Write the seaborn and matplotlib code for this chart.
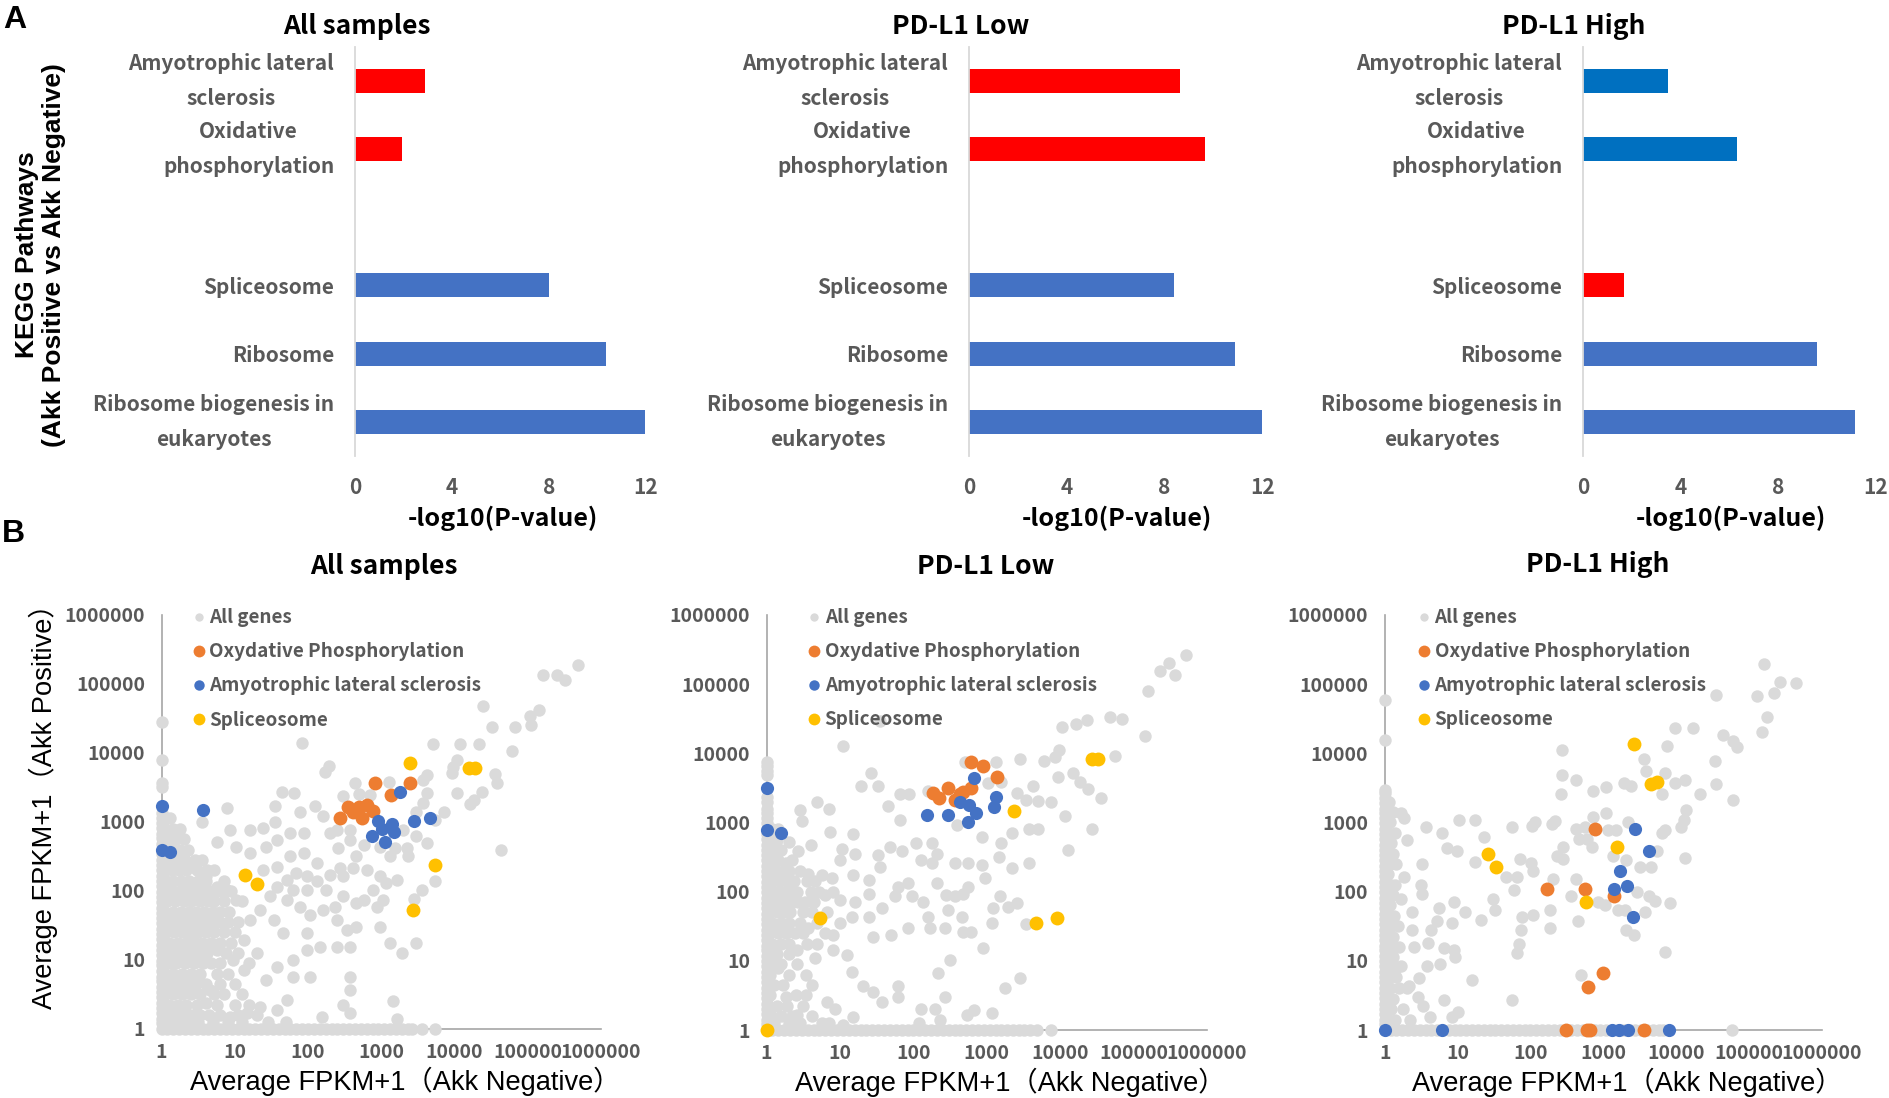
import numpy as np
import pandas as pd
import matplotlib
matplotlib.use("Agg")
import matplotlib.pyplot as plt
import matplotlib.transforms as mtransforms
import seaborn as sns
from matplotlib.lines import Line2D
from matplotlib.ticker import FixedLocator, FixedFormatter, NullLocator

# ======================= Panel A data (KEGG pathways) =======================
pathway_slots = ["Amyotrophic lateral\nsclerosis", "Oxidative\nphosphorylation", "",
                 "Spliceosome", "Ribosome", "Ribosome biogenesis in\neukaryotes"]
bar_pathways = ["Amyotrophic lateral\nsclerosis", "Oxidative\nphosphorylation",
                "Spliceosome", "Ribosome", "Ribosome biogenesis in\neukaryotes"]
group_titles = ["All samples", "PD-L1 Low", "PD-L1 High"]
neglog10p_all = [2.89, 1.93, 7.98, 10.34, 11.95]
neglog10p_low = [8.62, 9.64, 8.40, 10.86, 11.98]
neglog10p_high = [3.50, 6.31, 1.68, 9.60, 11.14]
bar_colors_all = ["#FF0000", "#FF0000", "#4472C4", "#4472C4", "#4472C4"]
bar_colors_low = ["#FF0000", "#FF0000", "#4472C4", "#4472C4", "#4472C4"]
bar_colors_high = ["#0070C0", "#0070C0", "#FF0000", "#4472C4", "#4472C4"]
a_xticks = [0, 4, 8, 12]

# ======================= Panel B data (log10 of Average FPKM+1) =======================
# (log10 x = Akk Negative, log10 y = Akk Positive)
b_tick_values = [1, 10, 100, 1000, 10000, 100000, 1000000]
b_tick_labels = ["1", "10", "100", "1000", "10000", "100000", "1000000"]
legend_labels = ["All genes", "Oxydative Phosphorylation", "Amyotrophic lateral sclerosis", "Spliceosome"]

# ---- All samples ----
b1_genes = [
    (5.69,5.27),(5.21,5.13),(5.40,5.13),(5.51,5.05),(4.39,4.68),(5.15,4.62),(5.03,4.54),(5.05,4.41),
    (4.51,4.38),(4.83,4.37),(4.78,4.03),(3.70,4.13),(4.08,4.13),(4.33,4.13),(1.92,4.14),(2.28,3.81),
    (2.23,3.73),(4.03,3.90),(3.98,3.80),(3.96,3.71),(4.55,3.70),(4.58,3.57),(4.37,3.44),(4.26,3.32),
    (4.21,3.26),(4.03,3.42),(3.62,3.68),(3.57,3.61),(3.62,3.42),(3.57,3.27),(3.48,3.15),(3.85,3.15),
    (3.73,3.03),(3.10,3.58),(2.64,3.57),(2.85,3.39),(2.48,3.37),(2.69,3.41),(1.64,3.43),(1.81,3.42),
    (1.55,3.23),(0.89,3.20),(0.55,3.00),(0.93,2.88),(1.21,2.88),(1.39,2.91),(1.55,3.00),(1.89,3.15),
    (2.09,3.23),(2.21,3.08),(4.63,2.60),(3.73,2.14),(3.55,2.01),(3.44,1.89),(3.19,2.62),(3.35,2.62),
    (3.30,2.88),(3.48,2.79),(3.62,2.69),(3.37,2.50),(3.12,2.50),(2.98,2.64),(2.76,2.67),(2.57,2.88),
    (2.39,2.88),(2.30,2.84),(2.41,2.62),(2.57,2.74),(2.66,2.50),(2.44,2.33),(2.62,2.33),(2.30,2.23),
    (2.48,2.21),(2.80,2.30),(2.98,2.21),(3.07,2.11),(3.21,2.16),(3.03,1.87),(2.89,2.01),(2.76,1.87),
    (2.66,1.82),(2.48,1.92),(2.37,1.77),(2.25,2.01),(2.12,2.14),(1.98,2.21),(1.84,2.26),(1.71,2.16),
    (1.57,2.06),(1.48,1.92),(1.39,2.30),(1.57,2.35),(1.75,2.50),(1.94,2.55),(2.12,2.40),(1.98,2.01),
    (1.80,2.01),(1.71,1.87),(1.89,1.77),(2.03,1.65),(2.21,1.72),(2.39,1.58),(2.53,1.43),(2.66,1.48),
    (2.98,1.48),(2.94,1.77),(3.12,1.24),(3.28,1.10),(3.48,1.24),(2.57,1.19),(2.39,1.19),(2.16,1.19),
    (1.98,1.14),(1.80,1.00),(1.66,1.39),(1.53,1.58),(1.34,1.72),(1.21,1.58),(1.02,1.87),(0.89,2.01),
    (0.75,2.06),(0.61,2.21),(0.43,2.35),(0.30,2.40),(0.75,2.71),(1.02,2.64),(1.21,2.55),(1.43,2.64),
    (1.75,2.84),(1.94,2.84),(1.57,2.74),(2.57,0.76),(2.57,0.57),(3.16,0.40),(3.21,0.15),(2.48,0.35),
    (2.57,0.23),(2.19,0.18),(1.71,0.42),(1.57,0.28),(1.34,0.32),(1.16,0.23),(0.93,0.18),(0.61,0.37),
    (0.66,0.57),(0.48,0.66),(1.12,0.86),(0.98,1.00),(0.75,1.14),(0.57,1.14),(0.43,1.39),(0.30,1.63),
    (1.12,1.29),(1.30,1.10),(1.43,0.71),(1.57,0.90),(1.80,0.76),(2.03,0.76),(1.98,1.39),
]
b1_dense_rows = [
    (3.05, [0.05, 0.12]),
    (2.90, [0.05, 0.15, 0.25]),
    (2.75, [0.05, 0.12, 0.20, 0.30]),
    (2.60, [0.06, 0.15, 0.25, 0.36]),
    (2.45, [0.05, 0.13, 0.22, 0.32, 0.45, 0.55]),
    (2.30, [0.05, 0.14, 0.24, 0.34, 0.48, 0.62, 0.72]),
    (2.15, [0.06, 0.16, 0.27, 0.38, 0.50, 0.60, 0.85]),
    (2.00, [0.05, 0.14, 0.25, 0.35, 0.45, 0.56, 0.67, 0.78, 0.95]),
    (1.85, [0.08, 0.18, 0.30, 0.40, 0.52, 0.63, 0.72, 0.85, 1.10]),
    (1.70, [0.05, 0.15, 0.26, 0.37, 0.47, 0.58, 0.70, 0.80, 0.92]),
    (1.55, [0.10, 0.20, 0.32, 0.43, 0.54, 0.66, 0.78, 0.90, 1.05]),
    (1.40, [0.06, 0.17, 0.28, 0.38, 0.50, 0.60, 0.72, 0.85, 1.00]),
    (1.25, [0.10, 0.22, 0.33, 0.45, 0.55, 0.67, 0.80, 0.95]),
    (1.10, [0.05, 0.15, 0.27, 0.38, 0.50, 0.62, 0.88, 1.05]),
    (0.95, [0.10, 0.20, 0.32, 0.44, 0.56, 0.68, 0.80, 1.20]),
    (0.80, [0.05, 0.16, 0.28, 0.40, 0.52, 0.75, 0.90]),
    (0.65, [0.10, 0.22, 0.34, 0.46, 0.60, 0.80, 1.00]),
    (0.50, [0.05, 0.16, 0.28, 0.40, 0.52, 0.72, 0.85, 1.10]),
    (0.35, [0.10, 0.22, 0.34, 0.48, 0.75, 1.00, 1.20]),
    (0.20, [0.05, 0.16, 0.28, 0.40, 0.52, 0.65, 0.80, 1.05, 1.30]),
    (0.10, [0.10, 0.22, 0.35, 0.50, 0.70, 0.90, 1.10, 1.45, 1.70]),
]
b1_zero_neg_ly = [0.0,0.08,0.15,0.23,0.30,0.38,0.46,0.53,0.61,0.69,0.76,0.84,0.92,0.99,1.07,1.15,
                  1.22,1.30,1.38,1.45,1.53,1.61,1.68,1.76,1.84,1.91,1.99,2.07,2.14,2.22,2.30,2.37,
                  2.45,2.53,2.60,2.68,2.76,2.83,2.91,2.99,3.06,3.13,3.51,3.56,3.90,4.45]
b1_zero_pos_lx = [0.08,0.16,0.24,0.32,0.40,0.48,0.56,0.64,0.72,0.80,0.88,0.96,1.04,1.12,1.20,1.28,
                  1.36,1.44,1.52,1.60,1.68,1.76,1.84,1.92,2.00,2.08,2.16,2.24,2.32,2.40,2.48,2.56,
                  2.64,2.72,2.80,2.88,2.96,3.04,3.12,3.20,3.28,3.36,3.42,3.55,3.73]
b1_oxphos = [(2.91,3.56),(3.39,3.57),(3.13,3.39),(2.55,3.21),(2.69,3.22),(2.80,3.25),(2.62,3.15),
             (2.89,3.16),(2.43,3.05),(2.74,3.05)]
b1_als = [(0.0,3.23),(0.0,2.59),(0.115,2.56),(0.57,3.17),(3.25,3.43),(2.96,3.02),(3.15,2.97),
          (3.01,2.89),(3.17,2.86),(2.87,2.80),(3.05,2.71),(3.44,3.02),(3.67,3.05)]
b1_splice = [(3.39,3.86),(4.20,3.78),(4.28,3.78),(1.14,2.23),(1.30,2.10),(3.74,2.38),(3.43,1.72)]

# ---- PD-L1 Low ----
b2_genes = [
    (5.72,5.42),(5.48,5.31),(5.36,5.19),(5.57,5.13),(5.20,4.90),(4.68,4.53),(4.84,4.49),(5.15,4.25),
    (4.02,4.38),(4.21,4.42),(4.37,4.48),(1.54,4.46),(1.04,4.10),(3.45,3.91),(3.78,3.89),(3.93,3.95),
    (3.98,4.04),(4.74,3.96),(3.13,3.87),(2.70,3.88),(1.42,3.72),(1.29,3.53),(1.52,3.53),(1.82,3.41),
    (1.94,3.41),(2.20,3.46),(3.02,3.57),(3.20,3.59),(3.97,3.66),(4.18,3.71),(3.63,3.52),(3.41,3.43),
    (3.53,3.33),(3.70,3.31),(3.88,3.30),(4.27,3.59),(4.38,3.48),(4.56,3.35),(4.06,3.09),(4.44,2.90),
    (4.10,2.60),(0.68,3.30),(0.85,3.19),(0.45,3.18),(0.48,3.02),(1.66,3.23),(1.82,3.03),(0.86,2.86),
    (1.18,2.83),(0.30,2.72),(0.43,2.58),(0.61,2.67),(1.03,2.61),(1.20,2.55),(1.52,2.53),(1.68,2.65),
    (1.84,2.58),(2.04,2.70),(2.25,2.70),(2.11,2.46),(2.25,2.41),(2.32,2.55),(2.57,2.41),(2.59,2.96),
    (2.93,2.79),(3.20,2.70),(3.16,2.50),(3.34,2.84),(3.57,2.91),(3.70,2.91),(3.34,2.34),(3.57,2.41),
    (2.93,2.38),(2.75,2.41),(0.27,2.41),(0.57,2.26),(0.75,2.24),(0.89,2.19),(1.00,2.46),(1.18,2.24),
    (1.39,2.17),(1.54,2.36),(1.79,2.07),(1.93,2.12),(1.98,1.93),(1.75,1.93),(1.39,1.97),(1.20,1.85),
    (1.00,1.88),(0.79,1.95),(0.43,1.85),(0.30,2.05),(2.32,2.13),(2.45,1.95),(2.57,1.93),(2.68,1.97),
    (2.75,2.07),(2.97,2.19),(3.18,1.93),(3.29,1.78),(3.41,1.83),(3.09,1.76),(2.13,1.85),(2.20,1.64),
    (2.47,1.73),(2.66,1.64),(1.93,1.47),(2.23,1.47),(2.43,1.47),(2.68,1.41),(2.79,1.41),(3.07,1.55),
    (3.54,1.53),(1.57,1.76),(1.39,1.64),(1.16,1.64),(1.00,1.54),(0.91,1.37),(0.57,1.47),(0.39,1.40),
    (0.68,1.25),(0.41,1.16),(0.91,1.16),(1.09,1.08),(0.66,1.04),(1.45,1.35),(1.70,1.37),(2.95,1.18),
    (2.50,1.01),(2.34,0.82),(1.79,0.63),(1.57,0.41),(1.32,0.63),(1.45,0.55),(1.16,0.84),(0.54,0.79),
    (0.16,0.89),(0.27,0.48),(0.54,0.51),(0.82,0.41),(0.93,0.31),(1.18,0.19),(0.41,0.22),(0.75,0.10),
    (1.04,0.07),(1.79,0.48),(2.11,0.31),(2.29,0.31),(2.43,0.48),(2.73,0.22),(2.82,0.29),(3.07,0.24),
    (3.25,0.60),(3.45,0.75),(2.07,0.10),(2.36,0.14),
]
b2_dense_rows = [
    (2.90, [0.08, 0.15]),
    (2.75, [0.06, 0.14]),
    (2.60, [0.05, 0.12, 0.20]),
    (2.45, [0.07, 0.16, 0.34]),
    (2.30, [0.05, 0.13, 0.22, 0.30, 0.45]),
    (2.15, [0.07, 0.17, 0.27, 0.38, 0.55, 0.66]),
    (2.00, [0.05, 0.12, 0.20, 0.30, 0.42, 0.60, 0.72, 0.90]),
    (1.85, [0.08, 0.18, 0.28, 0.36, 0.52, 0.65]),
    (1.70, [0.05, 0.14, 0.24, 0.32, 0.50, 0.62, 0.82]),
    (1.55, [0.07, 0.20, 0.30, 0.45, 0.68]),
    (1.40, [0.05, 0.15, 0.27, 0.50, 0.80]),
    (1.25, [0.08, 0.20, 0.30, 0.55]),
    (1.10, [0.05, 0.14, 0.30]),
    (0.95, [0.08, 0.20, 0.42]),
    (0.80, [0.05, 0.30]),
    (0.65, [0.10, 0.22, 0.62]),
    (0.50, [0.05, 0.40]),
    (0.35, [0.14, 0.28, 0.50]),
    (0.20, [0.06, 0.20, 0.35, 0.62]),
    (0.10, [0.10, 0.30, 0.45, 0.85]),
]
b2_zero_neg_ly = [0.0,0.08,0.15,0.23,0.30,0.38,0.46,0.53,0.61,0.69,0.76,0.84,0.92,0.99,1.07,1.15,
                  1.22,1.30,1.38,1.45,1.53,1.61,1.68,1.76,1.84,1.91,1.99,2.07,2.14,2.22,2.30,2.37,
                  2.45,2.53,2.60,2.68,2.76,2.83,2.91,2.99,3.06,3.13,3.20,3.30,3.37,3.68,3.75,3.82,3.88]
b2_zero_pos_lx = [0.08,0.16,0.24,0.32,0.40,0.48,0.56,0.64,0.72,0.80,0.88,0.96,1.04,1.12,1.20,1.28,
                  1.36,1.44,1.52,1.60,1.68,1.76,1.84,1.92,2.00,2.08,2.16,2.24,2.32,2.40,2.48,2.56,
                  2.64,2.72,2.80,2.88,2.96,3.04,3.12,3.20,3.28,3.36,3.44,3.50,3.59,3.68,3.88]
b2_oxphos = [(2.79,3.87),(2.95,3.81),(3.14,3.66),(2.47,3.50),(2.27,3.43),(2.35,3.35),(2.56,3.33),
             (2.67,3.44),(2.79,3.50),(2.63,3.41)]
b2_als = [(0.0,3.50),(0.0,2.89),(0.19,2.85),(2.82,3.64),(3.13,3.36),(3.10,3.22),(2.64,3.30),
          (2.76,3.25),(2.85,3.13),(2.47,3.11),(2.19,3.11),(2.75,3.01)]
b2_splice = [(4.44,3.91),(4.52,3.91),(3.37,3.17),(0.73,1.62),(3.67,1.55),(3.95,1.62),(0.0,0.0)]

# ---- PD-L1 High ----
b3_genes = [
    (5.21,5.29),(5.42,5.03),(5.65,5.02),(5.34,4.87),(5.11,4.82),(4.55,4.84),(5.24,4.52),(5.18,4.30),
    (3.98,4.37),(4.23,4.36),(4.64,4.26),(4.78,4.17),(4.83,4.09),(3.87,4.10),(4.53,3.89),(2.43,4.04),
    (3.56,3.91),(3.58,3.75),(3.84,3.72),(3.98,3.57),(4.12,3.61),(4.54,3.55),(4.78,3.33),(2.43,3.68),
    (2.63,3.61),(2.42,3.41),(2.86,3.45),(3.03,3.51),(3.29,3.57),(3.38,3.52),(3.80,3.41),(4.32,3.41),
    (4.13,3.18),(4.10,3.04),(4.07,2.94),(3.84,2.89),(3.80,2.84),(4.12,2.48),(3.04,3.14),(2.86,3.08),
    (2.62,2.90),(2.75,2.94),(2.34,3.02),(2.29,2.98),(2.06,3.00),(2.02,2.95),(1.74,2.94),(1.24,3.04),
    (1.02,3.03),(0.56,2.94),(0.23,3.13),(0.27,3.06),(0.79,2.84),(1.36,2.79),(0.31,2.74),(0.85,2.63),
    (0.99,2.59),(1.24,2.43),(0.51,2.40),(3.07,2.89),(3.18,2.89),(3.34,3.00),(2.66,2.76),(2.77,2.76),
    (2.85,2.65),(2.45,2.65),(2.36,2.51),(2.45,2.47),(3.13,2.51),(3.31,2.46),(3.50,2.36),(3.65,2.35),
    (3.74,2.59),(1.86,2.47),(2.01,2.41),(2.03,2.30),(1.81,2.21),(1.66,2.21),(1.78,2.03),(2.31,2.18),
    (2.63,2.18),(2.56,1.93),(2.93,1.85),(3.02,1.81),(3.20,1.74),(3.30,1.73),(3.46,2.00),(3.62,1.93),
    (3.71,1.86),(3.92,1.84),(3.57,1.71),(3.31,1.45),(3.42,1.38),(3.85,1.13),(2.27,1.73),(2.65,1.57),
    (2.27,1.48),(2.04,1.66),(1.89,1.64),(1.87,1.45),(1.84,1.25),(1.81,1.11),(1.52,1.74),(1.48,1.89),
    (1.32,1.59),(1.10,1.70),(0.95,1.85),(0.92,1.54),(0.75,1.76),(0.72,1.57),(0.63,1.45),(0.60,1.26),
    (0.81,1.18),(0.95,1.16),(0.97,1.06),(0.76,0.96),(0.58,0.92),(0.47,0.75),(0.33,0.63),(0.40,1.20),
    (0.38,1.45),(0.51,1.97),(0.26,2.21),(0.23,1.90),(0.37,1.70),(0.50,2.10),(0.23,0.92),(0.15,0.77),
    (0.31,0.60),(0.46,0.48),(0.53,0.34),(0.62,0.19),(0.92,0.19),(1.01,0.26),(0.81,0.43),(1.20,0.72),
    (1.74,0.43),(2.70,0.79),
]
b3_dense_rows = [
    (3.30, [0.06]), (3.15, [0.05, 0.12]), (3.00, [0.07]), (2.85, [0.05, 0.14]), (2.70, [0.08]),
    (2.55, [0.05, 0.12]), (2.40, [0.07, 0.16]), (2.25, [0.05]), (2.10, [0.08, 0.14]),
    (1.95, [0.05, 0.11]), (1.80, [0.07]), (1.65, [0.05, 0.13]), (1.50, [0.08, 0.18]),
    (1.35, [0.05, 0.12]), (1.20, [0.07, 0.20]), (1.05, [0.05, 0.12]), (0.90, [0.08, 0.15]),
    (0.75, [0.05]), (0.60, [0.07, 0.20]), (0.45, [0.05, 0.12]), (0.30, [0.08, 0.25]),
    (0.15, [0.05, 0.14, 0.35]),
]
b3_zero_neg_ly = [0.0,0.08,0.15,0.23,0.30,0.38,0.46,0.53,0.61,0.69,0.76,0.84,0.92,0.99,1.07,1.15,
                  1.22,1.30,1.38,1.45,1.53,1.61,1.68,1.76,1.84,1.91,1.99,2.07,2.14,2.22,2.30,2.37,
                  2.45,2.53,2.60,2.68,2.76,2.83,2.91,2.99,3.06,3.13,3.20,3.28,3.35,3.42,3.47,4.19,4.77]
b3_zero_pos_lx = [0.08,0.16,0.24,0.32,0.40,0.48,0.56,0.64,0.72,0.80,0.88,0.96,1.04,1.12,1.20,1.28,
                  1.36,1.44,1.52,1.60,1.68,1.76,1.84,1.92,2.00,2.08,2.16,2.24,2.32,2.40,2.48,2.56,
                  2.64,2.72,2.80,2.88,2.96,3.04,3.12,3.20,3.28,3.36,3.44,3.52,3.60,3.68,3.76,3.82,4.77]
b3_oxphos = [(2.89,2.90),(2.22,2.04),(2.75,2.04),(3.15,1.93),(2.99,0.83),(2.79,0.62),
             (2.49,0.0),(2.77,0.0),(2.82,0.0),(3.56,0.0)]
b3_als = [(3.44,2.90),(3.62,2.59),(3.23,2.30),(3.15,2.04),(3.33,2.08),(3.40,1.64),
          (0.0,0.0),(0.79,0.0),(3.12,0.0),(3.21,0.0),(3.34,0.0),(3.90,0.0)]
b3_splice = [(3.42,4.13),(3.66,3.56),(3.73,3.59),(3.19,2.65),(1.42,2.54),(1.53,2.35),(2.76,1.85)]

# ======================= styling =======================
GRAY_PT = "#DADADA"
ORANGE = "#ED7D31"
BLUE = "#4472C4"
YELLOW = "#FFC000"
TXT_GRAY = "#595959"

sns.set_theme(style="white")
plt.rcParams["font.family"] = ["Noto Sans CJK JP", "DejaVu Sans"]
ARIAL = ["Liberation Sans", "Noto Sans CJK JP", "DejaVu Sans"]

W, H = 1890.0, 1098.0
fig = plt.figure(figsize=(W / 100, H / 100), dpi=100)
fig.patch.set_facecolor("white")


def axes_px(l, t, r, b):
    return fig.add_axes([l / W, 1 - b / H, (r - l) / W, (b - t) / H])


# ======================= Panel A =======================
bar_boxes = [(355, 46.5, 646, 456), (969, 46.5, 1262.5, 456), (1583, 46.5, 1875.5, 456)]
bar_values = [neglog10p_all, neglog10p_low, neglog10p_high]
bar_colors = [bar_colors_all, bar_colors_low, bar_colors_high]
a_title_pos = [(357, 26), (961, 26), (1574, 26)]
a_xlabel_x = [0.509, 0.504, 0.506]
lift = mtransforms.ScaledTranslation(0, 8.5 / 100, fig.dpi_scale_trans)

for i in range(3):
    ax = axes_px(*bar_boxes[i])
    df = pd.DataFrame({"pathway": bar_pathways, "value": bar_values[i]})
    pal = dict(zip(bar_pathways, bar_colors[i]))
    sns.barplot(data=df, x="value", y="pathway", order=pathway_slots, hue="pathway",
                hue_order=bar_pathways, palette=pal, width=0.35, saturation=1,
                legend=False, ax=ax, linewidth=0, errorbar=None)
    ax.set_xlim(0, 12)
    ax.set_ylim(5.5, -0.5)
    ax.set_xticks(a_xticks)
    ax.set_xticklabels([str(t) for t in a_xticks])
    for s in ["top", "right", "bottom"]:
        ax.spines[s].set_visible(False)
    ax.spines["left"].set_color("#D9D9D9")
    ax.spines["left"].set_linewidth(1.3)
    ax.tick_params(axis="both", length=0)
    ax.tick_params(axis="y", pad=15, labelsize=15, labelcolor=TXT_GRAY)
    ax.tick_params(axis="x", pad=15, labelsize=15, labelcolor=TXT_GRAY)
    for lab in ax.get_yticklabels() + ax.get_xticklabels():
        lab.set_fontweight("bold")
    for lab in ax.get_yticklabels():
        lab.set_multialignment("center")
        lab.set_linespacing(1.8)
        if "\n" in lab.get_text():
            lab.set_transform(lab.get_transform() + lift)
    ax.grid(False)
    ax.set_ylabel("")
    ax.set_xlabel("-log10(P-value)", fontsize=18, fontweight="bold", color="black")
    ax.xaxis.set_label_coords(a_xlabel_x[i], -0.152)
    ax.xaxis.label.set_va("center")
    fig.text(a_title_pos[i][0] / W, 1 - a_title_pos[i][1] / H, group_titles[i],
             ha="center", va="center", fontsize=19, fontweight="bold", color="black")
    if i == 0:
        ax.set_ylabel("KEGG Pathways\n(Akk Positive vs Akk Negative)", fontsize=19,
                      fontweight="bold", color="black", family=ARIAL, linespacing=1.2)
        ax.yaxis.set_label_coords(-1.081, 0.491)
        ax.yaxis.label.set_va("center")
        ax.yaxis.label.set_multialignment("center")

# ======================= Panel B =======================
sc_boxes = [(161.6, 614.8, 601, 1029), (766.6, 614.8, 1207, 1030), (1384.7, 614.8, 1822, 1030)]
b_sets = [
    (b1_genes, b1_dense_rows, b1_zero_neg_ly, b1_zero_pos_lx, b1_oxphos, b1_als, b1_splice),
    (b2_genes, b2_dense_rows, b2_zero_neg_ly, b2_zero_pos_lx, b2_oxphos, b2_als, b2_splice),
    (b3_genes, b3_dense_rows, b3_zero_neg_ly, b3_zero_pos_lx, b3_oxphos, b3_als, b3_splice),
]
b_title_pos = [(384, 566), (986, 566), (1598, 565)]
legend_x = [0.067, 0.091, 0.073]


def to_df(pairs):
    arr = np.array(pairs, dtype=float).reshape(-1, 2)
    return pd.DataFrame({"x": 10 ** arr[:, 0], "y": 10 ** arr[:, 1]})


for i in range(3):
    genes, dense, zneg, zpos, ox, als, spl = b_sets[i]
    gene_pairs = list(genes)
    for ly, lxs in dense:
        gene_pairs += [(lx, ly) for lx in lxs]
    gene_pairs += [(0.0, ly) for ly in zneg]
    gene_pairs += [(lx, 0.0) for lx in zpos]

    ax = axes_px(*sc_boxes[i])
    ax.set_xscale("log")
    ax.set_yscale("log")
    common = dict(linewidth=0, ax=ax, clip_on=False, legend=False)
    sns.scatterplot(data=to_df(gene_pairs), x="x", y="y", color=GRAY_PT, s=80, zorder=3, **common)
    sns.scatterplot(data=to_df(ox), x="x", y="y", color=ORANGE, s=100, zorder=4, **common)
    sns.scatterplot(data=to_df(als), x="x", y="y", color=BLUE, s=90, zorder=5, **common)
    sns.scatterplot(data=to_df(spl), x="x", y="y", color=YELLOW, s=100, zorder=6, **common)

    ax.set_xlim(1, 1e6)
    ax.set_ylim(1, 1e6)
    for axis in (ax.xaxis, ax.yaxis):
        axis.set_major_locator(FixedLocator(b_tick_values))
        axis.set_major_formatter(FixedFormatter(b_tick_labels))
        axis.set_minor_locator(NullLocator())
    for s in ["top", "right"]:
        ax.spines[s].set_visible(False)
    for s in ["left", "bottom"]:
        ax.spines[s].set_color("#A6A6A6")
        ax.spines[s].set_linewidth(1.2)
    ax.tick_params(axis="both", length=0, labelsize=14, labelcolor=TXT_GRAY)
    ax.tick_params(axis="y", pad=12)
    ax.tick_params(axis="x", pad=10)
    for lab in ax.get_yticklabels() + ax.get_xticklabels():
        lab.set_fontweight("bold")
    ax.grid(False)
    ax.set_xlabel("Average FPKM+1（Akk Negative）", fontsize=19.6, color="black", family=ARIAL)
    ax.xaxis.set_label_coords(0.554, -0.1255)
    ax.xaxis.label.set_va("center")
    if i == 0:
        ax.set_ylabel("Average FPKM+1（Akk Positive）", fontsize=19.6, color="black", family=ARIAL)
        ax.yaxis.set_label_coords(-0.27, 0.553)
        ax.yaxis.label.set_va("center")
    else:
        ax.set_ylabel("")

    handles = [
        Line2D([], [], ls="", marker="o", color=GRAY_PT, markersize=6, markeredgewidth=0),
        Line2D([], [], ls="", marker="o", color=ORANGE, markersize=8.5, markeredgewidth=0),
        Line2D([], [], ls="", marker="o", color=BLUE, markersize=7.5, markeredgewidth=0),
        Line2D([], [], ls="", marker="o", color=YELLOW, markersize=8.5, markeredgewidth=0),
    ]
    leg = ax.legend(handles, legend_labels, loc="upper left", bbox_to_anchor=(legend_x[i], 1.016),
                    frameon=False, handlelength=0.8, handletextpad=0.15, labelspacing=0.8,
                    borderpad=0, borderaxespad=0, labelcolor=TXT_GRAY,
                    prop={"size": 13.6, "weight": "bold"})
    leg.set_zorder(10)
    fig.text(b_title_pos[i][0] / W, 1 - b_title_pos[i][1] / H, group_titles[i],
             ha="center", va="center", fontsize=19, fontweight="bold", color="black")

# panel letters
fig.text(15 / W, 1 - 20 / H, "A", ha="center", va="center", fontsize=23, fontweight="bold",
         family=ARIAL, color="black")
fig.text(13 / W, 1 - 534 / H, "B", ha="center", va="center", fontsize=23, fontweight="bold",
         family=ARIAL, color="black")

fig.savefig("out.png", dpi=100, facecolor="white")
